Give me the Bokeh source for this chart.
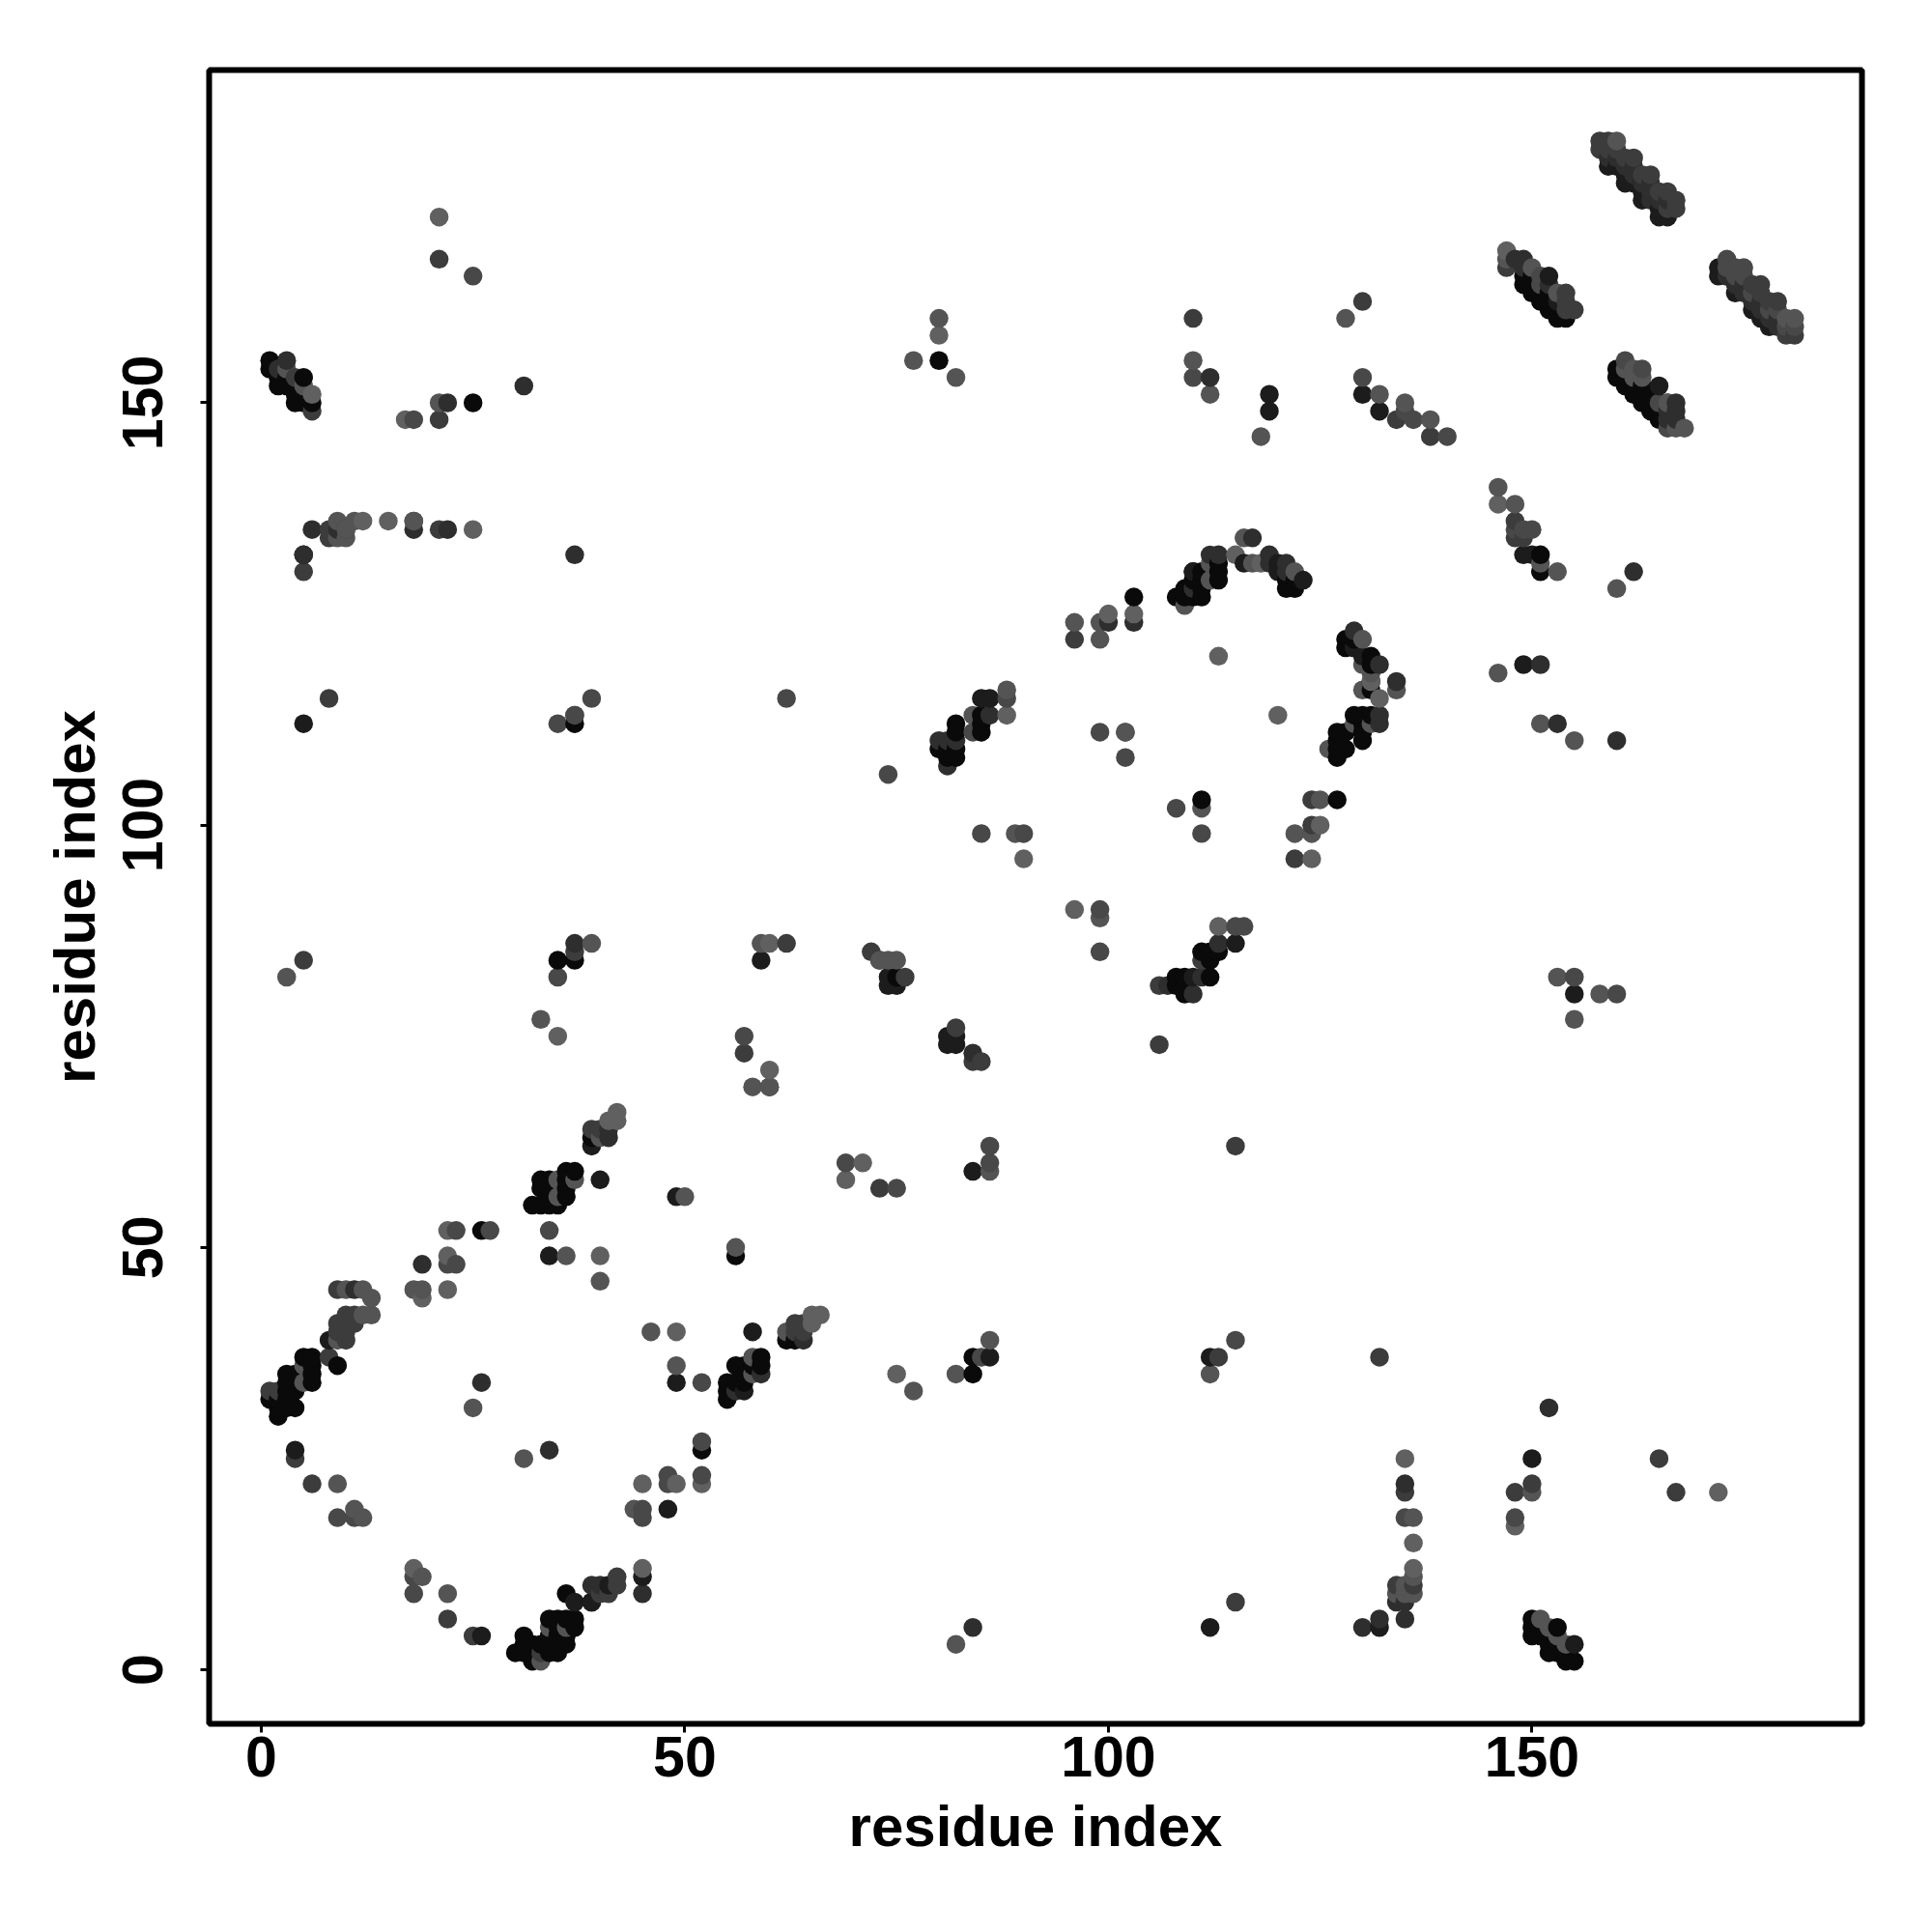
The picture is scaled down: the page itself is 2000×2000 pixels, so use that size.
from bokeh.plotting import figure
from bokeh.models import ColumnDataSource, FixedTicker, Range1d
from bokeh.embed import file_html
from bokeh.resources import INLINE
import numpy as np

# Contact pairs (residue on x, residue on y), grouped by the grey of the dot.
contacts_black = [
 (26,52),(36,9),(39,8),(34,6),(35,6),(36,6),(37,6),(37,5),(35,5),(31,4),(34,4),(35,4),(36,4),(31,3),(32,3),(33,3),(34,3),(35,3),(36,3),
 (30,2),(31,2),(32,2),(34,2),(35,2),(32,1),(5,37),(6,37),(6,36),(9,36),(3,35),(4,35),(6,35),(3,34),(4,34),(6,34),(3,33),(4,33),
 (1,32),(2,32),(3,32),(2,31),(3,31),(4,31),(2,30),(56,49),(59,37),(56,36),(57,36),(58,36),(59,36),(57,35),(55,34),(56,34),(57,34),
 (55,33),(55,32),(62,39),(63,39),(84,37),(84,35),(150,6),(150,5),(153,5),(150,4),(151,4),(152,3),(153,3),(152,2),(153,2),(154,2),
 (154,1),(155,1),(36,59),(37,59),(33,58),(34,58),(36,58),(33,57),(34,57),(36,57),(34,56),(36,56),(32,55),(33,55),(34,55),(35,55),
 (39,63),(35,84),(37,84),(37,112),(85,113),(85,112),(85,111),(82,112),(82,111),(80,109),(81,109),(82,109),(81,108),(82,108),(52,26),
 (103,127),(127,103),(129,113),(130,113),(131,113),(130,112),(127,111),(128,111),(130,111),(127,110),(130,110),(127,109),(128,109),(127,108),
 (111,103),(111,85),(112,85),(113,85),(112,84),(108,82),(109,82),(112,82),(108,81),(109,81),(109,80),(75,82),
 (113,131),(110,130),(111,130),(113,130),(110,129),(111,129),(113,129),(121,129),(122,129),(109,128),(111,128),(121,128),(122,128),
 (108,127),(109,127),(110,127),(111,127),(128,122),(129,122),(128,121),(129,121),(131,120),(131,119),(131,116),
 (151,132),(151,130),(1,155),(1,154),(2,153),(3,153),(5,153),(2,152),(3,152),(4,152),(4,151),(5,151),(4,150),(5,150),(6,150),(25,150),
 (160,154),(160,153),(161,153),(162,151),(163,151),(164,151),(163,152),(161,152),(163,150),(164,150),(164,149),(165,149),(165,148),(80,155),
 (149,165),(150,165),(149,164),(150,164),(150,163),(151,163),(152,163),(151,162),(152,162),(152,161),(153,161),(153,160),(154,160),
]
contacts_near_black = [
 (34,49),(8,39),(4,26),(48,19),(37,8),(39,8),(41,10),(45,11),(58,40),(57,33),(86,37),(132,5),(150,25),(155,3),(84,59),(40,58),(49,56),(49,34),(26,4),
 (59,84),(74,82),(74,81),(75,81),(5,132),(5,112),(39,62),(86,115),(85,115),(82,75),(81,75),(81,74),(82,74),(131,117),(110,82),
 (115,86),(112,5),(112,37),(119,151),(119,149),(130,151),(132,149),(155,80),(149,119),(149,132),(150,132),(116,131),(120,130),(123,129),
 (120,131),(130,120),(129,121),(165,152),(152,165),(153,162),(165,172),(166,172),(172,166),(172,165),(173,165),(177,160),(178,160),(174,163),
 (161,176),(162,176),(163,176),(163,174),(176,161),(178,159),(110,130),(159,178),(160,178),(161,177),(163,175),(165,173),(166,173),
]
contacts_dark = [
 (19,48),(11,45),(26,34),(34,26),(45,9),(39,10),(40,10),(59,35),(64,39),(56,33),(84,5),(152,31),(132,6),(130,5),(135,6),(135,22),(134,8),(135,8),
 (37,86),(73,84),(84,73),(41,64),(41,63),(132,113),(132,112),(103,124),(100,124),(80,110),(81,110),(82,110),(81,107),
 (113,86),(111,82),(107,81),(110,80),(129,123),(132,119),(117,134),(119,132),(119,131),(121,131),(121,130),(134,117),(86,113),
 (160,110),(162,130),(151,119),(153,112),(112,153),(3,155),(2,154),(22,150),(31,152),(6,135),(22,135),(9,135),(18,135),(5,132),(37,132),
 (166,150),(167,150),(166,149),(167,149),(166,148),(167,148),(149,166),(148,167),(149,167),(152,164),(175,163),(177,161),(179,160),(179,159),
 (159,179),(160,179),(161,178),(162,178),(162,177),(163,176),(164,176),(164,175),(165,174),(166,174),(113,132),(112,132),(110,128),(164,174),(173,165),
 (174,164),(175,164),(176,162),(177,162),(178,160),
]
contacts_mid_dark = [
 (9,45),(10,42),(11,42),(9,41),(10,41),(11,41),(9,40),(10,40),(10,39),(8,37),(1,33),(2,33),(4,25),(6,22),(22,6),(42,10),(40,9),(41,9),(42,11),(25,4),
 (63,40),(64,40),(63,41),(64,41),(134,10),(135,21),(165,25),(167,21),(148,21),(150,22),(132,37),(115,8),(5,84),(37,85),(62,86),(76,82),(72,85),(82,76),
 (57,73),(73,57),(85,72),(84,72),(39,64),(40,64),(111,84),(106,81),(122,96),(96,122),(124,103),(124,100),(106,74),(115,62),(37,113),(8,115),(130,162),
 (4,153),(6,149),(21,148),(21,167),(8,135),(10,135),(8,134),(21,135),(5,130),(110,160),(148,136),(148,134),(149,134),(134,148),(138,146),
 (158,181),(159,181),(158,180),(159,180),(160,180),(161,179),(162,179),(163,177),(164,177),(165,175),(166,175),(166,173),(167,173),(167,174),(176,164),(177,164),(178,162),(179,162),
 (147,166),(154,163),(154,162),(154,161),(155,161),(180,158),(181,158),(177,163),(136,10),(113,37),(33,2),
]
contacts_mid = [
 (23,52),(27,52),(34,52),(22,48),(23,48),(48,23),(48,22),(45,19),(9,18),(11,18),(45,18),(18,11),(18,9),(52,34),(52,27),(52,23),(148,18),(135,18),(18,148),
 (35,82),(57,75),(60,69),(69,60),(75,57),(99,111),(102,108),(108,102),(111,99),(85,99),(90,99),(99,90),(99,85),(115,88),(116,88),(85,37),
 (86,60),(86,62),(88,115),(84,111),(39,115),(62,115),(37,113),(35,112),(110,153),(130,153),(25,165),(135,149),(136,148),(140,146),(149,135),(148,135),(150,135),
 (163,154),(161,155),(151,165),(151,164),(165,150),(166,147),(173,167),(173,166),(174,166),(175,166),(174,165),(175,165),(176,163),(178,161),(179,161),
 (180,159),(181,159),(115,39),(155,82),(160,80),(102,111),(74,106),(18,136),
]
contacts_light = [
 (10,45),(12,45),(18,45),(19,45),(13,44),(12,42),(13,42),(9,39),(5,36),(5,34),(25,31),(31,25),(9,22),(11,19),(44,19),(12,18),(19,11),(22,9),(36,5),(34,5),(33,1),
 (36,49),(40,46),(46,40),(49,36),(56,50),(58,37),(58,35),(50,56),(35,58),(37,58),(35,56),(40,63),(33,77),(58,69),(60,69),(73,84),(74,84),(75,84),(59,86),(39,86),(3,82),
 (84,113),(129,112),(131,112),(111,102),(124,99),(122,99),(125,103),(96,124),(99,124),(99,122),(102,111),(89,99),(99,89),(153,82),(155,110),(146,118),(151,112),
 (77,33),(82,35),(86,39),(86,59),(88,116),(112,35),(82,3),(130,116),(134,116),(134,9),(135,10),(135,9),(136,9),(136,11),(136,18),(150,21),(152,5),(153,4),(154,3),(151,6),
 (150,166),(153,163),(162,153),(163,153),(161,154),(162,154),(166,150),(167,147),(168,147),(160,181),(180,160),(181,160),(147,167),(3,154),(5,152),(9,134),(10,134),(10,135),(9,136),(11,136),(18,136),
 (21,150),(77,155),(82,153),(80,160),(110,155),(112,151),(118,146),(128,160),(132,151),(135,150),(138,148),(146,140),(148,138),(151,131),(153,130),(160,128),
 (158,80),(155,77),(130,122),(130,119),(131,118),(122,130),(117,131),(126,109),(109,126),(116,134),(62,40),(112,131),(112,129),
]
contacts_pale = [
 (22,52),(22,49),(40,49),(22,45),(19,44),(45,22),(49,22),(18,12),(49,40),(65,41),(65,42),(66,42),(42,66),(42,65),(41,65),(45,12),
 (52,22),(75,35),(135,25),(136,15),(136,12),(172,21),(148,17),(21,172),(80,158),(35,75),(71,60),(69,58),(60,71),(60,86),
 (88,113),(120,113),(113,120),(90,96),(124,96),(125,100),(100,125),(103,125),(96,90),(113,88),(132,115),(131,117),(118,131),(115,132),
 (6,151),(12,136),(15,136),(25,135),(17,148),(146,138),(147,168),
]
tick_values = [0, 50, 100, 150]
axis_title = "residue index"
shade_names = [contacts_black, contacts_near_black, contacts_dark, contacts_mid_dark, contacts_mid, contacts_light, contacts_pale]
shade_colors = ["#0a0a0a", "#1c1c1c", "#2e2e2e", "#3c3c3c", "#484848", "#545454", "#606060"]

xs, ys, cs = [], [], []
for pts, col in zip(shade_names, shade_colors):
    for a, b in pts:
        xs.append(a); ys.append(b); cs.append(col)
order = np.lexsort((np.array(ys), np.array(xs)))
src = ColumnDataSource(dict(x=[xs[i] for i in order], y=[ys[i] for i in order], c=[cs[i] for i in order]))

FONT = "Liberation Sans"
p = figure(width=1984, height=1984, output_backend="svg", toolbar_location=None,
           x_range=Range1d(-6.15, 188.95), y_range=Range1d(-6.41, 189.4),
           min_border_left=216, min_border_right=57, min_border_top=72, min_border_bottom=200,
           background_fill_color="white", border_fill_color="white")
p.grid.visible = False
p.outline_line_color = "black"
p.outline_line_width = 6
p.outline_line_alpha = 1
p.scatter("x", "y", source=src, size=19.5, fill_color="c", line_color=None, marker="circle")

for ax in (p.xaxis[0], p.yaxis[0]):
    ax.ticker = FixedTicker(ticks=tick_values)
    ax.minor_tick_line_color = None
    ax.axis_line_color = None
    ax.major_tick_in = 0
    ax.major_tick_out = 9
    ax.major_tick_line_width = 3
    ax.major_tick_line_color = "black"
    ax.major_label_text_font = FONT
    ax.major_label_text_font_style = "bold"
    ax.major_label_text_font_size = "59px"
    ax.major_label_text_color = "black"
    ax.axis_label = axis_title
    ax.axis_label_text_font = FONT
    ax.axis_label_text_font_style = "bold"
    ax.axis_label_text_font_size = "60px"
    ax.axis_label_text_color = "black"
p.xaxis[0].major_label_standoff = 4
p.xaxis[0].axis_label_standoff = 15
p.yaxis[0].major_label_orientation = "vertical"
p.yaxis[0].major_label_standoff = 39
p.yaxis[0].axis_label_standoff = 14

open("out.html", "w").write(file_html(p, INLINE))
